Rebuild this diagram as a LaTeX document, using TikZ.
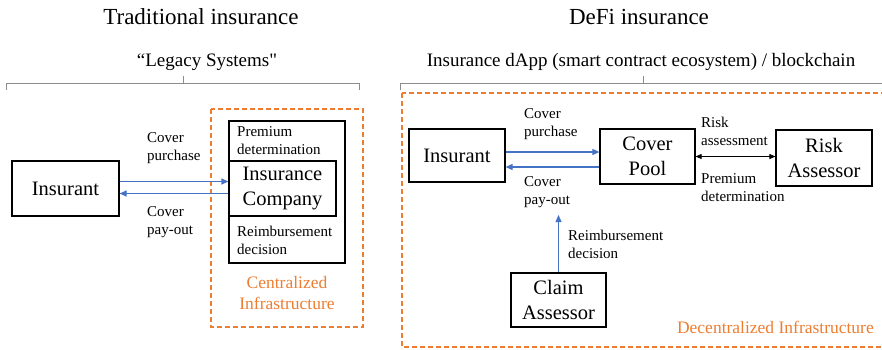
\documentclass[tikz,border=0pt]{standalone}
\usepackage{fontspec}
\setmainfont{Liberation Serif}
\newfontfamily\rawquote{Liberation Serif}[Ligatures=TeXOff]
\usepackage{xcolor}
\usetikzlibrary{arrows.meta,positioning,calc}

\definecolor{flowblue}{HTML}{4472C4}
\definecolor{infraorange}{HTML}{ED7D31}
\definecolor{bracketgray}{HTML}{8C8C8C}

\begin{document}
\begin{tikzpicture}[
  x=1pt,y=-1pt,
  actor/.style={draw,line width=1.2pt,align=center,inner sep=0pt,
    font=\fontsize{20.5}{25}\selectfont},
  lbl/.style={align=left,inner sep=0pt,anchor=west,
    font=\fontsize{15}{18}\selectfont},
  title/.style={font=\fontsize{23}{27}\selectfont},
  subtitle/.style={font=\fontsize{19}{22}\selectfont},
  flow/.style={draw=flowblue,line width=1.2pt,-{Triangle[length=7pt,width=6pt]}},
  infra/.style={draw=infraorange,dashed,line width=1.4pt,dash pattern=on 5pt off 3pt},
  infratext/.style={text=infraorange,align=center,inner sep=0pt,
    font=\fontsize{17.5}{21}\selectfont},
  bracket/.style={draw=bracketgray,line width=1pt}
]
  \useasboundingbox (0,0) rectangle (882,349);
  \clip (0,0) rectangle (882,349);

  % headings
  \node[title] (tradTitle) at (201,17) {Traditional insurance};
  \node[title] (defiTitle) at (639,17) {DeFi insurance};
  \node[subtitle] (legacy) at (207,62) {“Legacy Systems{\rawquote"}};
  \node[subtitle] (dapp) at (641,62) {Insurance dApp (smart contract ecosystem) / blockchain};

  % brackets
  \draw[bracket] (6,90) -- (6,83) -- (359,83) -- (359,90);
  \draw[bracket] (183,83) -- (183,76);
  \draw[bracket] (400,90) -- (400,83) -- (884,83);
  \draw[bracket] (643,83) -- (643,76);

  % traditional insurance
  \draw[infra] (211,109) rectangle (363,327);
  \node[actor,minimum width=116pt,minimum height=142pt] (insurer) at (287,192) {};
  \node[actor,minimum width=107pt,minimum height=55pt] (company) at (282.5,188.5)
    {Insurance\\Company};
  \node[actor,minimum width=107pt,minimum height=55pt] (insurantL) at (65.5,188.5) {Insurant};
  \node[lbl] (premiumL) at (237,141) {Premium\\determination};
  \node[lbl] (reimbL) at (237,240) {Reimbursement\\decision};
  \node[lbl] (purchaseL) at (147,148) {Cover\\purchase};
  \node[lbl] (payoutL) at (147,222) {Cover\\pay-out};
  \node[infratext] (central) at (287,293) {Centralized\\Infrastructure};
  \draw[flow] ([yshift=7pt]insurantL.east) -- ([yshift=7pt]company.west);
  \draw[flow] ([yshift=-5pt]company.west) -- ([yshift=-5pt]insurantL.east);

  % DeFi insurance
  \draw[infra] (402,93) rectangle (886,347);
  \node[actor,minimum width=96pt,minimum height=53pt] (insurantR) at (457,155.5) {Insurant};
  \node[actor,minimum width=95pt,minimum height=55pt] (pool) at (647.5,156.5) {Cover\\Pool};
  \node[actor,minimum width=96pt,minimum height=56pt] (riskAss) at (824,158) {Risk\\Assessor};
  \node[actor,minimum width=95pt,minimum height=54pt] (claimAss) at (558.5,300) {Claim\\Assessor};
  \coordinate (payout) at (558.5,215);
  \node[lbl] (purchaseR) at (524,124) {Cover\\purchase};
  \node[lbl] (payoutR) at (524,192) {Cover\\pay-out};
  \node[lbl] (riskR) at (701,131) {Risk\\assessment};
  \node[lbl] (premiumR) at (701,188) {Premium\\determination};
  \node[lbl] (reimbR) at (568,244) {Reimbursement\\decision};
  \node[infratext,anchor=east] (decentral) at (874,327) {Decentralized Infrastructure};
  \draw[flow] ([yshift=3.5pt]insurantR.east) -- ([yshift=3.5pt]insurantR.east -| pool.west);
  \draw[flow] ([yshift=-10.5pt]pool.west) -- ([yshift=-10.5pt]pool.west -| insurantR.east);
  \draw[line width=0.8pt,{Triangle[length=6pt,width=5pt]}-{Triangle[length=6pt,width=5pt]}]
    (pool.east) -- (pool.east -| riskAss.west);
  \draw[flow,line width=0.8pt] (claimAss) -- (payout);
\end{tikzpicture}
\end{document}
